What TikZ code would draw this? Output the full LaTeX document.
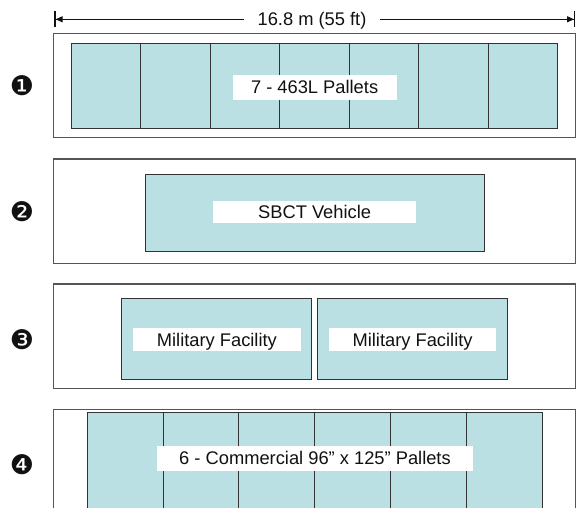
\documentclass[tikz,border=0pt]{standalone}
\usepackage{fontspec}
\setmainfont{Liberation Sans}
\newfontfamily\dingfont{DejaVu Sans}
\usetikzlibrary{arrows.meta}
\definecolor{cargo}{HTML}{BBE0E3}
\definecolor{edge}{HTML}{333333}
\definecolor{hull}{HTML}{555555}
\definecolor{ink}{HTML}{111111}

\begin{document}
\begin{tikzpicture}[x=1pt, y=-1pt,
  deck/.style={rectangle, draw=hull, line width=1.2pt, fill=white, minimum width=522pt, inner sep=0pt},
  pallet/.style={rectangle, draw=edge, line width=1pt, fill=cargo, inner sep=0pt},
  lbl/.style={rectangle, fill=white, inner sep=0pt, text=ink, font=\fontsize{18.3}{20}\selectfont, text height=13.1pt, text depth=0pt},
  num/.style={inner sep=0pt, text=ink, font=\dingfont\fontsize{27}{27}\selectfont},
  dim/.style={line width=1pt, ink, -{Triangle[length=7pt,width=6pt]Bar[width=16pt,line width=1.3pt]}},
]
  \useasboundingbox (0,0) rectangle (578,508);
  \clip (0,0) rectangle (578,508);

  % overall length
  \coordinate (dimL) at (54.3,19.3);
  \coordinate (dimR) at (575.3,19.3);
  \node[lbl, inner xsep=13pt] (dimlbl) at (312,19.3) {16.8 m (55 ft)};
  \draw[dim] (dimlbl) -- (dimL);
  \draw[dim] (dimlbl) -- (dimR);

  % load 1
  \node[deck, minimum height=104pt] (deck1) at (314.5,85.7) {};
  \foreach \i in {1,...,7}
    \node[pallet, minimum width=69.5pt, minimum height=85.3pt] (pal\i) at ({71.2+69.5*(\i-0.5)},86.35) {};
  \node[lbl, minimum width=164pt, minimum height=24.5pt] (lbl1) at (314.6,87.3) {7 - 463L Pallets};
  \node[num] (n1) at (22,85.7) {❶};

  % load 2
  \node[deck, minimum height=104.3pt] (deck2) at (314.5,211.2) {};
  \node[pallet, minimum width=338.8pt, minimum height=76.7pt] (veh) at (314.8,212.7) {};
  \node[lbl, minimum width=203.6pt, minimum height=22.3pt] (lbl2) at (314.6,212.2) {SBCT Vehicle};
  \node[num] (n2) at (22,211.7) {❷};

  % load 3
  \node[deck, minimum height=104.5pt] (deck3) at (314.5,336.3) {};
  \node[pallet, minimum width=189.6pt, minimum height=80.7pt] (facA) at (216.3,338.7) {};
  \node[pallet, minimum width=190pt, minimum height=80.7pt] (facB) at (412.4,338.7) {};
  \node[lbl, minimum width=168pt, minimum height=22.4pt] (lbl3a) at (216.9,339.5) {Military Facility};
  \node[lbl, minimum width=167.5pt, minimum height=22.4pt] (lbl3b) at (412.6,339.5) {Military Facility};
  \node[num] (n3) at (22,340) {❸};

  % load 4
  \node[deck, minimum height=104.2pt] (deck4) at (314.5,461.4) {};
  \foreach \i in {1,...,6}
    \node[pallet, minimum width=75.83pt, minimum height=97.3pt] (com\i) at ({87.3+75.83*(\i-0.5)},461.35) {};
  \node[lbl, minimum width=316pt, minimum height=24.7pt] (lbl4) at (315,458.4) {6 - Commercial 96” x 125” Pallets};
  \node[num] (n4) at (22,464.5) {❹};
\end{tikzpicture}
\end{document}
